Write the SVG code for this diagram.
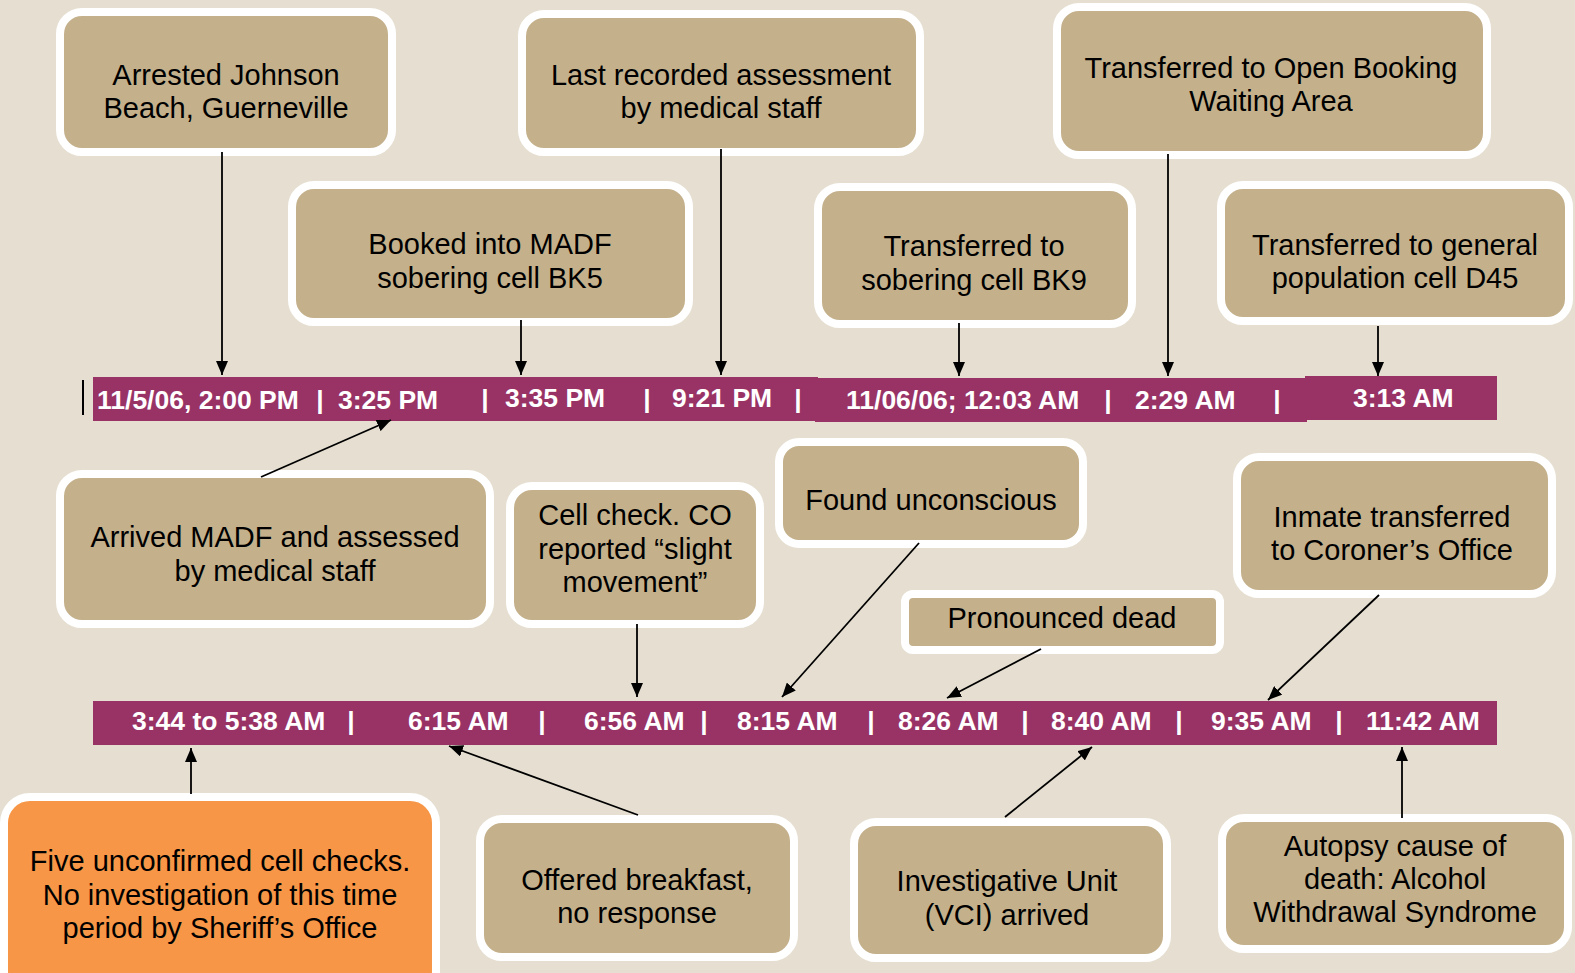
<svg xmlns="http://www.w3.org/2000/svg" width="1575" height="973" viewBox="0 0 1575 973">
<style>
.box{fill:#C4B18C;stroke:#FFFFFF;stroke-width:8}
.org{fill:#F79646;stroke:#FFFFFF;stroke-width:8}
.t{font-family:"Liberation Sans",Arial,sans-serif;font-size:29px;fill:#000;text-anchor:middle}
.bar{fill:#993366}
.bt{font-family:"Liberation Sans",Arial,sans-serif;font-size:26.5px;font-weight:bold;fill:#FFFFFF}
.sep{font-family:"Liberation Sans",Arial,sans-serif;font-size:26.5px;font-weight:bold;fill:#FFFFFF;text-anchor:middle}
.c{stroke:#000;stroke-width:1.8;fill:none;marker-end:url(#ah)}
</style>
<defs>
<marker id="ah" viewBox="0 0 14 12" refX="14" refY="6" markerWidth="14" markerHeight="12" markerUnits="userSpaceOnUse" orient="auto"><path d="M0,0 L14,6 L0,12 z" fill="#000"/></marker>
</defs>
<rect x="0" y="0" width="1575" height="973" fill="#E6DFD1"/>

<g id="timeline-top">
<rect class="bar" x="93" y="377" width="725" height="44"/>
<rect class="bar" x="815" y="378" width="492" height="44"/>
<rect class="bar" x="1305" y="376" width="192" height="44"/>
<rect x="82" y="380" width="2" height="35" fill="#000"/>
<text class="bt" x="97" y="409">11/5/06, 2:00 PM</text>
<text class="sep" x="320" y="409">|</text>
<text class="bt" x="338" y="409">3:25 PM</text>
<text class="sep" x="485" y="408">|</text>
<text class="bt" x="505" y="407">3:35 PM</text>
<text class="sep" x="647" y="408">|</text>
<text class="bt" x="672" y="407">9:21 PM</text>
<text class="sep" x="798" y="408">|</text>
<text class="bt" x="846" y="409">11/06/06; 12:03 AM</text>
<text class="sep" x="1108" y="409">|</text>
<text class="bt" x="1135" y="409">2:29 AM</text>
<text class="sep" x="1277" y="409">|</text>
<text class="bt" x="1353" y="407">3:13 AM</text>
</g>

<g id="timeline-bottom">
<rect class="bar" x="93" y="701" width="1404" height="44"/>
<text class="bt" x="132" y="730">3:44 to 5:38 AM</text>
<text class="sep" x="351" y="730">|</text>
<text class="bt" x="408" y="730">6:15 AM</text>
<text class="sep" x="542" y="730">|</text>
<text class="bt" x="584" y="730">6:56 AM</text>
<text class="sep" x="704" y="730">|</text>
<text class="bt" x="737" y="730">8:15 AM</text>
<text class="sep" x="871" y="730">|</text>
<text class="bt" x="898" y="730">8:26 AM</text>
<text class="sep" x="1025" y="730">|</text>
<text class="bt" x="1051" y="730">8:40 AM</text>
<text class="sep" x="1179" y="730">|</text>
<text class="bt" x="1211" y="730">9:35 AM</text>
<text class="sep" x="1339" y="730">|</text>
<text class="bt" x="1366" y="730">11:42 AM</text>
</g>

<g id="n-arrested">
<rect class="box" x="60" y="12" width="332" height="140" rx="22"/>
<text class="t" x="226" y="85">Arrested Johnson</text>
<text class="t" x="226" y="118">Beach, Guerneville</text>
</g>
<g id="n-lastassess">
<rect class="box" x="522" y="14" width="398" height="138" rx="22"/>
<text class="t" x="721" y="85">Last recorded assessment</text>
<text class="t" x="721" y="118">by medical staff</text>
</g>
<g id="n-openbooking">
<rect class="box" x="1057" y="7" width="430" height="148" rx="22"/>
<text class="t" x="1271" y="78">Transferred to Open Booking</text>
<text class="t" x="1271" y="111">Waiting Area</text>
</g>
<g id="n-booked">
<rect class="box" x="292" y="185" width="397" height="137" rx="22"/>
<text class="t" x="490" y="254">Booked into MADF</text>
<text class="t" x="490" y="288">sobering cell BK5</text>
</g>
<g id="n-bk9">
<rect class="box" x="818" y="187" width="314" height="137" rx="22"/>
<text class="t" x="974" y="256">Transferred to</text>
<text class="t" x="974" y="290">sobering cell BK9</text>
</g>
<g id="n-d45">
<rect class="box" x="1221" y="185" width="348" height="136" rx="22"/>
<text class="t" x="1395" y="255">Transferred to general</text>
<text class="t" x="1395" y="288">population cell D45</text>
</g>
<g id="n-arrived">
<rect class="box" x="60" y="474" width="430" height="150" rx="22"/>
<text class="t" x="275" y="547">Arrived MADF and assessed</text>
<text class="t" x="275" y="581">by medical staff</text>
</g>
<g id="n-cellcheck">
<rect class="box" x="510" y="486" width="250" height="138" rx="22"/>
<text class="t" x="635" y="525">Cell check. CO</text>
<text class="t" x="635" y="559">reported “slight</text>
<text class="t" x="635" y="592">movement”</text>
</g>
<g id="n-found">
<rect class="box" x="779" y="442" width="304" height="102" rx="20"/>
<text class="t" x="931" y="510">Found unconscious</text>
</g>
<g id="n-pronounced">
<rect class="box" x="905" y="594" width="315" height="56" rx="8"/>
<text class="t" x="1062" y="628">Pronounced dead</text>
</g>
<g id="n-coroner">
<rect class="box" x="1237" y="457" width="315" height="137" rx="22"/>
<text class="t" x="1392" y="527">Inmate transferred</text>
<text class="t" x="1392" y="560">to Coroner’s Office</text>
</g>
<g id="n-fivechecks">
<rect class="org" x="4" y="797" width="432" height="200" rx="26"/>
<text class="t" x="220" y="871">Five unconfirmed cell checks.</text>
<text class="t" x="220" y="905">No investigation of this time</text>
<text class="t" x="220" y="938">period by Sheriff’s Office</text>
</g>
<g id="n-breakfast">
<rect class="box" x="480" y="819" width="314" height="138" rx="22"/>
<text class="t" x="637" y="890">Offered breakfast,</text>
<text class="t" x="637" y="923">no response</text>
</g>
<g id="n-vci">
<rect class="box" x="854" y="822" width="313" height="136" rx="22"/>
<text class="t" x="1007" y="891">Investigative Unit</text>
<text class="t" x="1007" y="925">(VCI) arrived</text>
</g>
<g id="n-autopsy">
<rect class="box" x="1222" y="818" width="346" height="131" rx="22"/>
<text class="t" x="1395" y="856">Autopsy cause of</text>
<text class="t" x="1395" y="889">death: Alcohol</text>
<text class="t" x="1395" y="922">Withdrawal Syndrome</text>
</g>

<g id="connectors">
<line class="c" x1="222" y1="152" x2="222" y2="375"/>
<line class="c" x1="521" y1="320" x2="521" y2="375"/>
<line class="c" x1="721" y1="149" x2="721" y2="375"/>
<line class="c" x1="959" y1="323" x2="959" y2="376"/>
<line class="c" x1="1168" y1="154" x2="1168" y2="376"/>
<line class="c" x1="1378" y1="326" x2="1378" y2="376"/>
<line class="c" x1="261" y1="477" x2="391" y2="420"/>
<line class="c" x1="637" y1="624" x2="637" y2="697"/>
<line class="c" x1="919" y1="543" x2="782" y2="697"/>
<line class="c" x1="1041" y1="649" x2="947" y2="698"/>
<line class="c" x1="1379" y1="595" x2="1268" y2="700"/>
<line class="c" x1="191" y1="794" x2="191" y2="748"/>
<line class="c" x1="638" y1="815" x2="449" y2="746"/>
<line class="c" x1="1005" y1="817" x2="1092" y2="747"/>
<line class="c" x1="1402" y1="818" x2="1402" y2="747"/>
</g>
</svg>
